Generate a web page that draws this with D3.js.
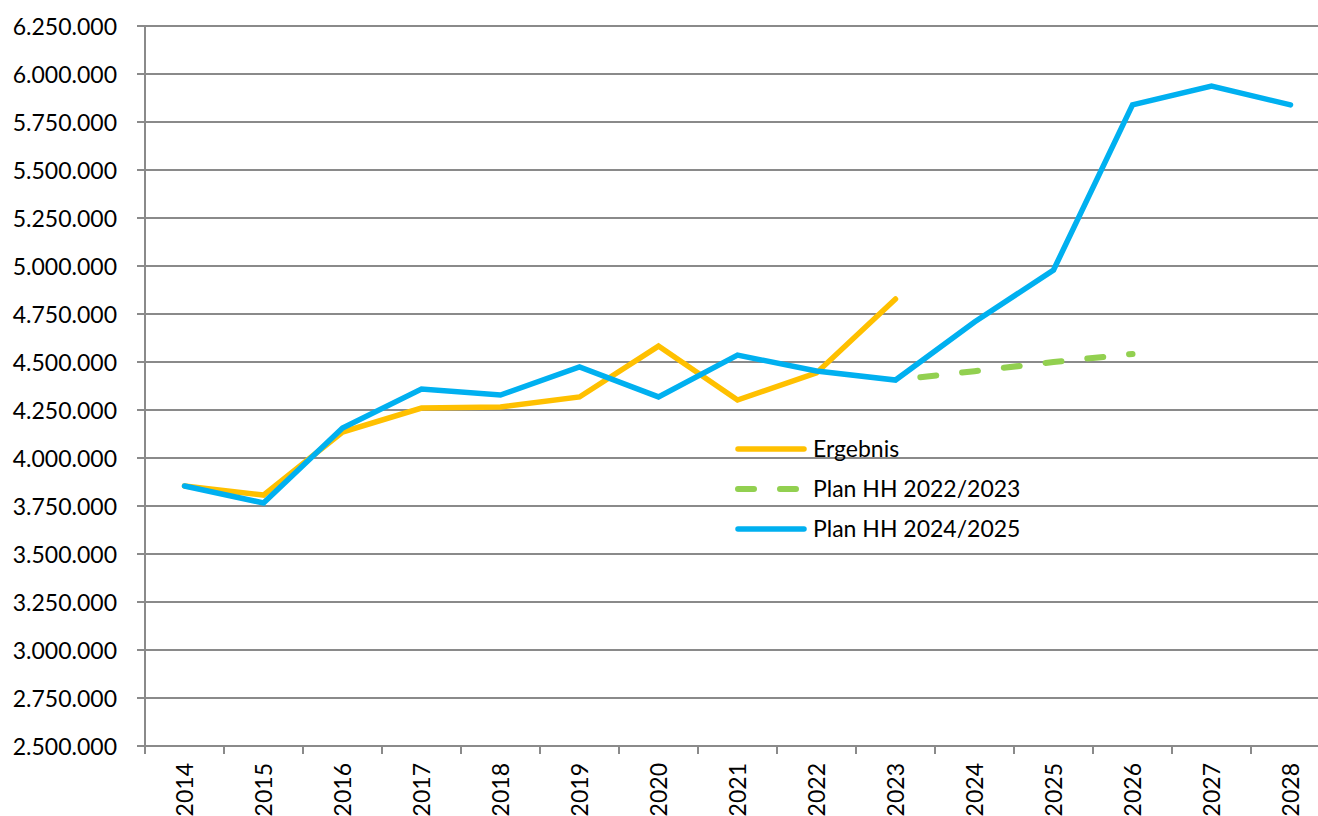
<!DOCTYPE html>
<html><head><meta charset="utf-8">
<script src="https://cdn.jsdelivr.net/npm/d3@7"></script>
<style>body{margin:0;background:#fff}svg{display:block}text{font-family:Lato,"Noto Sans",sans-serif;fill:#000}</style>
</head><body><svg id="c" width="1318" height="816"></svg>
<script>
const years = ["2014","2015","2016","2017","2018","2019","2020","2021","2022","2023","2024","2025","2026","2027","2028"];
const ergebnis = [3854000,3807000,4135000,4260000,4266000,4318000,4583000,4302000,4443000,4828000,null,null,null,null,null];
const plan2223 = [null,null,null,null,null,null,null,null,null,4406000,4452000,4500000,4542000,null,null];
const plan2425 = [3854000,3766000,4156000,4359000,4328000,4474000,4318000,4536000,4453000,4406000,4708000,4979000,5839000,5937000,5839000];
const yTicks = [2500000,2750000,3000000,3250000,3500000,3750000,4000000,4250000,4500000,4750000,5000000,5250000,5500000,5750000,6000000,6250000];
const seriesNames = ["Ergebnis","Plan HH 2022/2023","Plan HH 2024/2025"];

const svg = d3.select("#c");
const x = d3.scaleBand().domain(years).range([145,1330]).padding(0);
const y = d3.scaleLinear().domain([2500000,6250000]).range([746,26]);
const loc = d3.formatLocale({decimal:",",thousands:".",grouping:[3],currency:["","€"]});
const fmt = loc.format(",.0f");
const grid = "#8a8a8a";

// gridlines
svg.append("g").selectAll("line").data(yTicks).join("line")
  .attr("x1",137).attr("x2",1330).attr("y1",d=>y(d)).attr("y2",d=>y(d))
  .attr("stroke",grid).attr("stroke-width",2);

// y axis
const ya = svg.append("g").attr("transform","translate(145,0)")
  .call(d3.axisLeft(y).tickValues(yTicks).tickFormat(fmt).tickSize(8).tickPadding(20));
ya.select(".domain").attr("stroke",grid).attr("stroke-width",2).attr("d","M0,26V746");
ya.selectAll(".tick line").remove();
ya.selectAll("text").style("font-size","23px").attr("dy","0.36em");

// x axis
const xa = svg.append("g").attr("transform","translate(0,746)")
  .call(d3.axisBottom(x).tickSize(0).tickPadding(0));
xa.select(".domain").attr("stroke",grid).attr("stroke-width",2).attr("d","M137,0H1330");
xa.selectAll(".tick text").style("font-size","23px")
  .attr("text-anchor","end").attr("transform","rotate(-90)")
  .attr("x",-17).attr("y",0).attr("dy","0.36em");
svg.append("g").selectAll("line").data(years.concat(["end"])).join("line")
  .attr("x1",(d,i)=>145+i*x.bandwidth()).attr("x2",(d,i)=>145+i*x.bandwidth())
  .attr("y1",746).attr("y2",754).attr("stroke",grid).attr("stroke-width",2);

function lineFor(arr){
  return d3.line().defined(d=>d.v!=null).x(d=>x(d.yr)+x.bandwidth()/2).y(d=>y(d.v))(arr.map((v,i)=>({v,yr:years[i]})));
}
svg.append("path").attr("d",lineFor(ergebnis)).attr("fill","none")
  .attr("stroke","#FFC000").attr("stroke-width",5.5).attr("stroke-linejoin","miter").attr("stroke-linecap","round");
svg.append("path").attr("d",lineFor(plan2223)).attr("fill","none")
  .attr("stroke","#92D050").attr("stroke-width",6).attr("stroke-linecap","round")
  .attr("stroke-dasharray","16,26").attr("stroke-dashoffset",17);
svg.append("path").attr("d",lineFor(plan2425)).attr("fill","none")
  .attr("stroke","#00B0F0").attr("stroke-width",5.5).attr("stroke-linejoin","miter").attr("stroke-linecap","round");

// legend
const colors = ["#FFC000","#92D050","#00B0F0"];
const lg = svg.append("g");
seriesNames.forEach((n,i)=>{
  const yy = 449 + i*40;
  const l = lg.append("line").attr("x1",738).attr("x2",804).attr("y1",yy).attr("y2",yy)
    .attr("stroke",colors[i]).attr("stroke-width",i===1?6:5.5).attr("stroke-linecap","round");
  if(i===1) l.attr("stroke-dasharray","16,26");
  lg.append("text").attr("x",813).attr("y",yy).attr("dy","0.36em").style("font-size","23px").text(n);
});
</script></body></html>
